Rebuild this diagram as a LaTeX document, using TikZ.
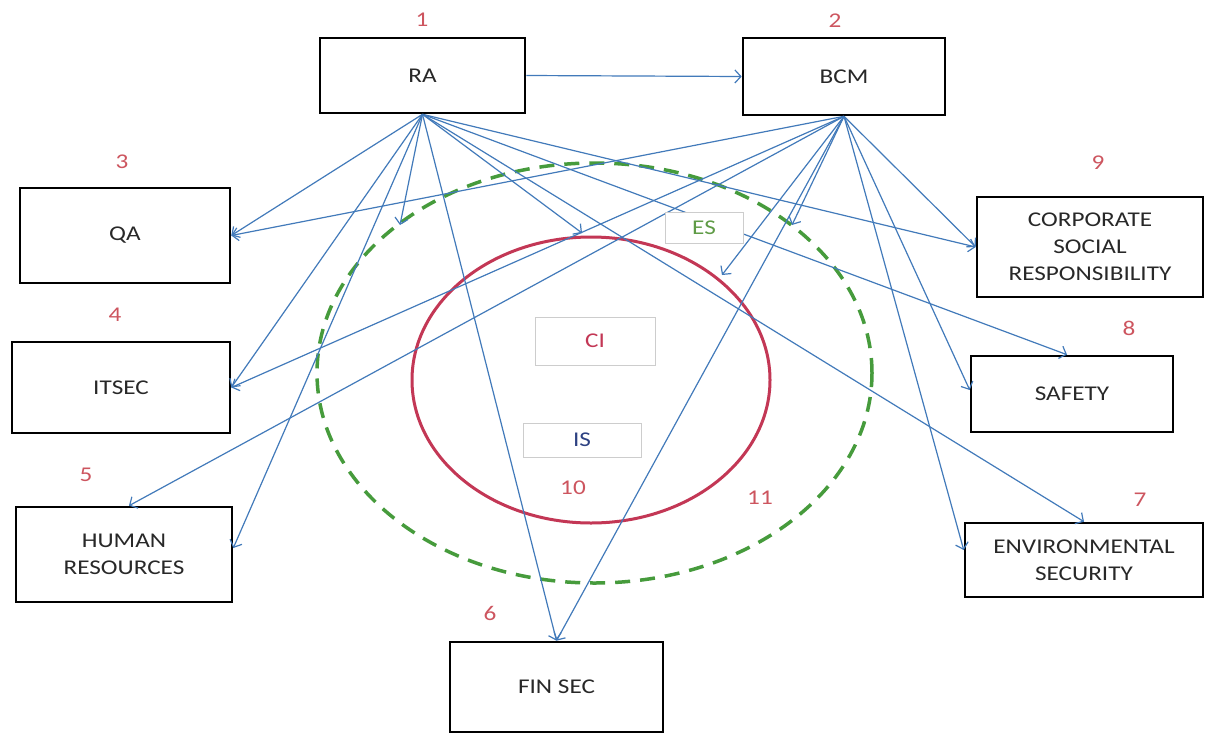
\documentclass[tikz,border=0pt]{standalone}
\usepackage{fontspec}
\setmainfont{Carlito}[FakeStretch=1.2]
\usetikzlibrary{arrows.meta}
\definecolor{lineblue}{RGB}{66,122,186}
\definecolor{dashgreen}{RGB}{70,155,60}
\definecolor{ringred}{RGB}{195,55,85}
\definecolor{numred}{RGB}{205,85,95}
\definecolor{textdark}{RGB}{40,40,40}
\definecolor{tagborder}{RGB}{205,205,205}
\definecolor{esgreen}{RGB}{95,155,70}
\definecolor{isblue}{RGB}{45,65,130}
\begin{document}
\begin{tikzpicture}[x=1pt,y=-1pt,
  box/.style={draw=black, line width=2.6pt, fill=white, text=textdark, align=center,
              font=\fontsize{21}{27}\selectfont, inner sep=0pt},
  num/.style={text=numred, font=\fontsize{21}{25}\selectfont, inner sep=0pt},
  conn/.style={draw=lineblue, line width=1.2pt, -{Straight Barb[length=6pt,width=13pt]}},
  tag/.style={draw=tagborder, line width=0.9pt, fill=white, inner sep=0pt,
              font=\fontsize{21}{25}\selectfont}]
\useasboundingbox (0,0) rectangle (1205,734);
\fill[white] (0,0) rectangle (1205,734);

% rings
\draw[dashgreen, line width=3.5pt, dash pattern=on 15pt off 10pt]
  (594.5,373) ellipse [x radius=277.5pt, y radius=210pt];
\draw[ringred, line width=3pt] (591,380) ellipse [x radius=179pt, y radius=143pt];

% main boxes
\node[box, minimum width=205pt, minimum height=75pt] (RA)  at (422.5,75.5) {RA};
\node[box, minimum width=202pt, minimum height=77pt] (BCM) at (844,76.5) {BCM};
\node[box, minimum width=210pt, minimum height=95pt] (QA)  at (125,235.5) {QA};
\node[box, minimum width=218pt, minimum height=91pt] (ITSEC) at (121,387.5) {ITSEC};
\node[box, minimum width=216pt, minimum height=95pt] (HR)  at (124,554.5) {HUMAN\\RESOURCES};
\node[box, minimum width=213pt, minimum height=90pt] (FIN) at (556.5,687) {FIN SEC};
\node[box, minimum width=226pt, minimum height=100pt] (CSR) at (1090,247) {CORPORATE\\SOCIAL\\RESPONSIBILITY};
\node[box, minimum width=202pt, minimum height=76pt] (SAF) at (1072,394) {SAFETY};
\node[box, minimum width=238pt, minimum height=74pt] (ENV) at (1084,560) {ENVIRONMENTAL\\SECURITY};

% free arrow ends
\coordinate (t1) at (400,225);
\coordinate (t2) at (582,233);
\coordinate (t3) at (722,275);
\coordinate (t4) at (792,225);

% connectors from RA
\draw[conn] (RA.east) -- (BCM.west);
\draw[conn] (RA.south) -- (QA.east);
\draw[conn] (RA.south) -- (ITSEC.east);
\draw[conn] (RA.south) -- ([yshift=6.5pt]HR.east);
\draw[conn] (RA.south) -- (t1);
\draw[conn] (RA.south) -- (FIN.north);
\draw[conn] (RA.south) -- (t2);
\draw[conn] (RA.south) -- (CSR.west);
\draw[conn] (RA.south) -- ([xshift=-5pt]SAF.north);
\draw[conn] (RA.south) -- (ENV.north);

% connectors from BCM
\draw[conn] (BCM.south) -- (QA.east);
\draw[conn] (BCM.south) -- (ITSEC.east);
\draw[conn] (BCM.south) -- ([xshift=5pt]HR.north);
\draw[conn] (BCM.south) -- (t3);
\draw[conn] (BCM.south) -- (t4);
\draw[conn] (BCM.south) -- (FIN.north);
\draw[conn] (BCM.south) -- (CSR.west);
\draw[conn] (BCM.south) -- ([yshift=4pt]SAF.west);
\draw[conn] (BCM.south) -- ([yshift=10pt]ENV.west);

% inner tags
\node[tag, minimum width=78pt, minimum height=31pt, text=esgreen] (ES) at (704,227.5) {ES};
\node[tag, minimum width=120pt, minimum height=48pt, text=ringred] (CI) at (595,341) {CI};
\node[tag, minimum width=118pt, minimum height=34pt, text=isblue] (IS) at (582,440) {IS};

% number labels
\node[num] (n1) at (422,20) {1};
\node[num] (n2) at (835,21) {2};
\node[num] (n3) at (122,162) {3};
\node[num] (n4) at (115,315) {4};
\node[num] (n5) at (86,475) {5};
\node[num] (n6) at (490,613) {6};
\node[num] (n7) at (1140,500) {7};
\node[num] (n8) at (1129,328) {8};
\node[num] (n9) at (1098,163) {9};
\node[num] (n10) at (573,488) {10};
\node[num] (n11) at (760,498) {11};
\end{tikzpicture}
\end{document}
